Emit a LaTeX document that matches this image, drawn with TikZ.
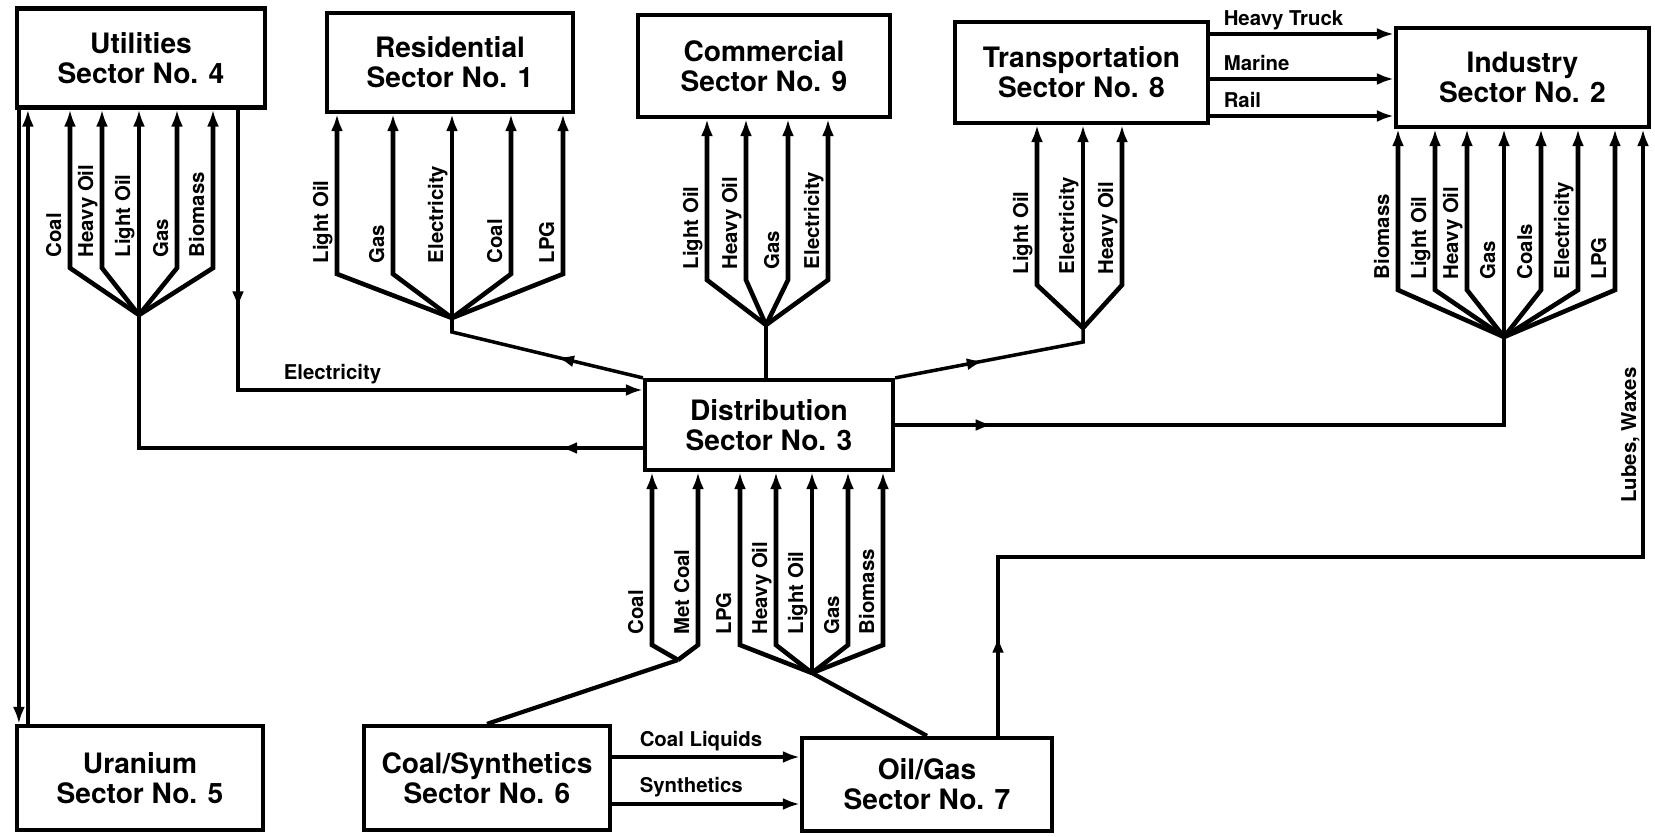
\documentclass[tikz,border=0pt]{standalone}
\usepackage{fontspec}
\setmainfont{TeX Gyre Heros}
\usetikzlibrary{arrows.meta, positioning, calc, decorations.markings}
\tikzset{
  every picture/.style={line width=1pt},
  sector/.style={draw, line width=1.2pt, align=center, inner sep=0pt, minimum width=24.8mm, minimum height=9.9mm, font=\fontsize{8}{8.5}\selectfont\bfseries},
  arrow/.style={-{Latex[length=1.7mm, width=1.2mm]}},
  flow/.style={arrow, line width=1.3pt},
  midarrow/.style={postaction={decorate}, decoration={markings, mark=at position #1 with {\arrow{Latex[length=1.7mm, width=1.2mm]}}}},
  fuel/.style={rotate=90, anchor=base west, inner sep=0pt, font=\fontsize{5.8}{7}\selectfont\bfseries},
  note/.style={anchor=base west, inner sep=0pt, font=\fontsize{5.8}{7}\selectfont\bfseries},
}

\begin{document}
\begin{tikzpicture}[x=0.1mm, y=-0.1mm]
  \useasboundingbox (0,0) rectangle (1655,837);
  \node[sector] (util) at (141,58) {Utilities\\Sector No. 4};
  \node[sector, minimum width=24.6mm] (res) at (450,62.5) {Residential\\Sector No. 1};
  \node[sector, minimum width=25.2mm, minimum height=10.2mm] (com) at (764,66) {Commercial\\Sector No. 9};
  \node[sector, minimum width=25.3mm, minimum height=10.1mm] (trans) at (1081.5,72.5) {Transportation\\Sector No. 8};
  \node[sector, minimum width=25.3mm] (ind) at (1522.5,77.5) {Industry\\Sector No. 2};
  \node[sector, minimum height=9mm] (dist) at (769,425) {Distribution\\Sector No. 3};
  \node[sector, minimum width=24.6mm, minimum height=10.4mm] (uran) at (140,778) {Uranium\\Sector No. 5};
  \node[sector, minimum width=24.6mm, minimum height=10.4mm] (coal) at (487,778) {Coal/Synthetics\\Sector No. 6};
  \node[sector, minimum width=25mm, minimum height=9.3mm] (oil) at (927,784.5) {Oil/Gas\\Sector No. 7};

  \foreach \n/\s/\jx/\jy/\by/\fuels in {
     util/util/139/315/268/{70/Coal, 102/Heavy Oil, 139/Light Oil, 177/Gas, 213/Biomass},
     res/res/452/318/274/{337/Light Oil, 393/Gas, 452/Electricity, 511/Coal, 563/LPG},
     com/com/766/325/280/{707/Light Oil, 746/Heavy Oil, 788/Gas, 828/Electricity},
     trans/trans/1083/328/285/{1037/Light Oil, 1083/Electricity, 1122/Heavy Oil},
     ind/ind/1504/337/290/{1398/Biomass, 1435/Light Oil, 1467/Heavy Oil, 1504/Gas, 1541/Coals, 1578/Electricity, 1615/LPG},
     coal/dist/678/660/645/{652/Coal, 698/Met Coal},
     oil/dist/812/673/645/{740/LPG, 776/Heavy Oil, 812/Light Oil, 848/Gas, 883/Biomass}} {
    \coordinate (j\n) at (\jx,\jy);
    \foreach \x/\t in \fuels {
      \draw[flow] (j\n) -- (\x,\by) -- (\x,\by |- \s.south);
      \node[fuel] (\n-\x) at (\x-9,\by-9) {\t};
    }
  }

  \draw[midarrow=0.13] ([yshift=-2.3mm]dist.west) -| (jutil);
  \draw[arrow, midarrow=0.29] ([xshift=9.7mm]util.south) |- ([yshift=3.5mm]dist.west);
  \node[note] (elec) at (282,380) {Electricity};
  \draw[midarrow=0.42] (dist.north west) -- ([yshift=-1.4mm]jres) -- (jres);
  \draw (jcom) -- (jcom |- dist.north);
  \draw[midarrow=0.44] (dist.north east) -- ([yshift=-1.4mm]jtrans) -- (jtrans);
  \draw[midarrow=0.14] (dist.east) -| (jind);
  \draw[line width=1.2pt] (jcoal) -- (coal.north);
  \draw[line width=1.2pt] (joil) -- (oil.north);

  \foreach \y/\t in {34/Heavy Truck, 79/Marine, 116/Rail} {
    \draw[flow] (trans.east |- 0,\y) -- (ind.west |- 0,\y);
    \node[note] (mode-\y) at (1222,\y-8) {\t};
  }

  \coordinate (cl) at ([yshift=2.1mm]coal.east);
  \coordinate (sy) at ([yshift=-2.6mm]coal.east);
  \draw[flow] (cl) -- (cl -| oil.west);
  \draw[flow] (sy) -- (sy -| oil.west);
  \node[note] (liq) at (638,746) {Coal Liquids};
  \node[note] (syn) at (638,792) {Synthetics};

  \coordinate (lube) at (1643,557);
  \draw[arrow, midarrow=0.08] ([xshift=7.1mm]oil.north) |- (lube) -- (lube |- ind.south);
  \node[fuel, anchor=base] (wax) at (1636,435) {Lubes, Waxes};

  \coordinate (u1) at ([xshift=0.4mm]util.south west);
  \coordinate (u2) at ([xshift=1.3mm]util.south west);
  \draw[arrow] (u1) -- (u1 |- uran.north);
  \draw[arrow] (u2 |- uran.north) -- (u2);
\end{tikzpicture}
\end{document}
